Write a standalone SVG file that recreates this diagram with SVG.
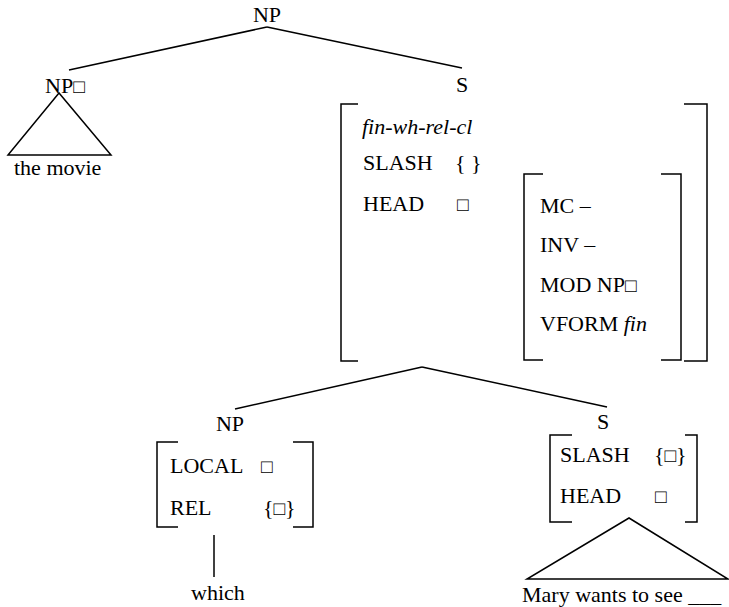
<svg xmlns="http://www.w3.org/2000/svg" width="729" height="607" viewBox="0 0 729 607" font-family="'Liberation Serif', 'Times New Roman', serif">
  <style>
    text { font-family: "Liberation Serif", "Times New Roman", serif; font-size: 22px; fill: #000; }
    .it { font-style: italic; }
    .tag { font-size: 19px; }
    .mid { text-anchor: middle; }
    line, polyline, polygon { stroke: #000; stroke-width: 1.5; fill: none; }
  </style>

  <!-- tree edges -->
  <g id="connectors">
    <line x1="267" y1="27" x2="69" y2="70"/>
    <line x1="267" y1="27" x2="462" y2="68"/>
    <line x1="422" y1="367" x2="235" y2="409"/>
    <line x1="422" y1="367" x2="607" y2="407"/>
    <line x1="214" y1="535" x2="214" y2="577"/>
  </g>

  <!-- root -->
  <g id="np-root">
    <text x="267" y="22" class="mid">NP</text>
  </g>

  <!-- modified NP with triangle -->
  <g id="np-movie">
    <text x="45" y="93">NP<tspan class="tag">□</tspan></text>
    <polygon points="59,93 8,155 111,155"/>
    <text x="14" y="175">the movie</text>
  </g>

  <!-- relative clause S with its feature structure -->
  <g id="s-relcl">
    <text x="462" y="92" class="mid">S</text>
    <polyline points="358,104 341,104 341,361 358,361"/>
    <polyline points="684,104 707,104 707,361 684,361"/>
    <text x="362" y="134" class="it">fin-wh-rel-cl</text>
    <text x="363" y="170">SLASH</text>
    <text x="455" y="170">{ }</text>
    <text x="363" y="211">HEAD</text>
    <text x="457" y="211" class="tag">□</text>
    <polyline points="543,174 524,174 524,360 543,360"/>
    <polyline points="661,174 681,174 681,360 661,360"/>
    <text x="540" y="213">MC –</text>
    <text x="540" y="252">INV –</text>
    <text x="540" y="292">MOD NP<tspan class="tag">□</tspan></text>
    <text x="540" y="331">VFORM <tspan class="it">fin</tspan></text>
  </g>

  <!-- wh-phrase NP -->
  <g id="np-which">
    <text x="230" y="431" class="mid">NP</text>
    <polyline points="178,442 157,442 157,527 178,527"/>
    <polyline points="293,442 313,442 313,527 293,527"/>
    <text x="170" y="473">LOCAL</text>
    <text x="261" y="473" class="tag">□</text>
    <text x="170" y="515">REL</text>
    <text x="263" y="515">{<tspan class="tag">□</tspan>}</text>
    <text x="218" y="600" class="mid">which</text>
  </g>

  <!-- gapped S -->
  <g id="s-gap">
    <text x="603" y="429" class="mid">S</text>
    <polyline points="572,435 550,435 550,522 572,522"/>
    <polyline points="685,435 697,435 697,522 685,522"/>
    <text x="560" y="462">SLASH</text>
    <text x="654" y="462">{<tspan class="tag">□</tspan>}</text>
    <text x="560" y="503">HEAD</text>
    <text x="655" y="503" class="tag">□</text>
    <polygon points="629,518 527,579 728,579"/>
    <text x="522" y="602">Mary wants to see ___</text>
  </g>
</svg>
